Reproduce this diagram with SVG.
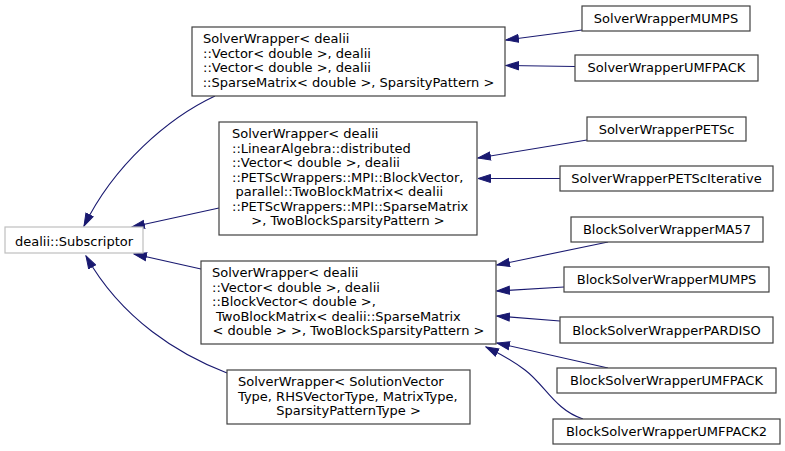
<svg xmlns="http://www.w3.org/2000/svg" width="785" height="451" viewBox="0 0 785 451">
<style>
text{font-family:"DejaVu Sans",sans-serif;font-size:13px;fill:#000}
.n rect{fill:#fff;stroke:#404040;stroke-width:1.2}
.g rect{fill:#fff;stroke:#bfbfbf;stroke-width:1.2}
.c{text-anchor:middle}
#edges path{fill:none;stroke:#191970;stroke-width:1.1;marker-end:url(#ah)}
</style>
<defs>
<marker id="ah" markerUnits="userSpaceOnUse" markerWidth="14" markerHeight="10" refX="13" refY="5" orient="auto" viewBox="0 0 14 10">
<path d="M0.5,1 L13,5 L0.5,9 z" fill="#191970" stroke="#191970" stroke-width="1"/>
</marker>
</defs>
<rect width="785" height="451" fill="#fff"/>
<g id="edges">
<path d="M215,96 C168,118 114,165 84,226"/>
<path d="M219,208 L132,227"/>
<path d="M201,269 L134,254"/>
<path d="M227,373 C180,355 122,320 86,256"/>
<path d="M582,30 L506,40"/>
<path d="M575,66.5 L506,65.5"/>
<path d="M587,140 L478,158"/>
<path d="M560,178.5 L478,178.5"/>
<path d="M608,242 L497,265"/>
<path d="M564,287 L497,291"/>
<path d="M560,321 L497,316"/>
<path d="M608,368 L497,343"/>
<path d="M583,419 C555,410 545,385 525,370 C508,357 498,353 486,347"/>
</g>
<g id="subscriptor" class="g"><rect x="5" y="227" width="138" height="26"/><text x="74" y="245.5" class="c">dealii::Subscriptor</text></g>
<g id="swA" class="n"><rect x="192" y="27" width="313" height="69"/>
<text x="203" y="43">SolverWrapper&lt; dealii</text>
<text x="203" y="57.5">::Vector&lt; double &gt;, dealii</text>
<text x="203" y="72">::Vector&lt; double &gt;, dealii</text>
<text x="348.5" y="86.5" class="c">::SparseMatrix&lt; double &gt;, SparsityPattern &gt;</text>
</g>
<g id="swB" class="n"><rect x="219" y="122" width="258" height="113"/>
<text x="232" y="138.3">SolverWrapper&lt; dealii</text>
<text x="232" y="152.8">::LinearAlgebra::distributed</text>
<text x="232" y="167.3">::Vector&lt; double &gt;, dealii</text>
<text x="232" y="181.8">::PETScWrappers::MPI::BlockVector,</text>
<text x="235.5" y="196.3">parallel::TwoBlockMatrix&lt; dealii</text>
<text x="232" y="210.8">::PETScWrappers::MPI::SparseMatrix</text>
<text x="348" y="225.3" class="c">&gt;, TwoBlockSparsityPattern &gt;</text>
</g>
<g id="swC" class="n"><rect x="201" y="261" width="295" height="83"/>
<text x="212" y="277.3">SolverWrapper&lt; dealii</text>
<text x="212" y="291.8">::Vector&lt; double &gt;, dealii</text>
<text x="212" y="306.3">::BlockVector&lt; double &gt;,</text>
<text x="216" y="320.8">TwoBlockMatrix&lt; dealii::SparseMatrix</text>
<text x="348.5" y="335" class="c">&lt; double &gt; &gt;, TwoBlockSparsityPattern &gt;</text>
</g>
<g id="swD" class="n"><rect x="227" y="370" width="243" height="54"/>
<text x="238" y="386">SolverWrapper&lt; SolutionVector</text>
<text x="238" y="400.5">Type, RHSVectorType, MatrixType,</text>
<text x="348.5" y="415" class="c">SparsityPatternType &gt;</text>
</g>
<g id="mumps" class="n"><rect x="582" y="6" width="168" height="25"/><text x="666" y="22.5" class="c">SolverWrapperMUMPS</text></g>
<g id="umfpack" class="n"><rect x="575" y="55" width="183" height="26"/><text x="666.5" y="72" class="c">SolverWrapperUMFPACK</text></g>
<g id="petsc" class="n"><rect x="587" y="117" width="159" height="24"/><text x="666.5" y="133.5" class="c">SolverWrapperPETSc</text></g>
<g id="petscit" class="n"><rect x="560" y="166" width="213" height="25"/><text x="666.5" y="183" class="c">SolverWrapperPETScIterative</text></g>
<g id="ma57" class="n"><rect x="571" y="217" width="192" height="25"/><text x="667" y="234" class="c">BlockSolverWrapperMA57</text></g>
<g id="bmumps" class="n"><rect x="564" y="267" width="205" height="25"/><text x="666.5" y="284" class="c">BlockSolverWrapperMUMPS</text></g>
<g id="pardiso" class="n"><rect x="560" y="317" width="213" height="26"/><text x="666.5" y="334.5" class="c">BlockSolverWrapperPARDISO</text></g>
<g id="bumfpack" class="n"><rect x="557" y="368" width="219" height="25"/><text x="666.5" y="385" class="c">BlockSolverWrapperUMFPACK</text></g>
<g id="bumfpack2" class="n"><rect x="553" y="419" width="227" height="25"/><text x="666.5" y="436" class="c">BlockSolverWrapperUMFPACK2</text></g>
</svg>
